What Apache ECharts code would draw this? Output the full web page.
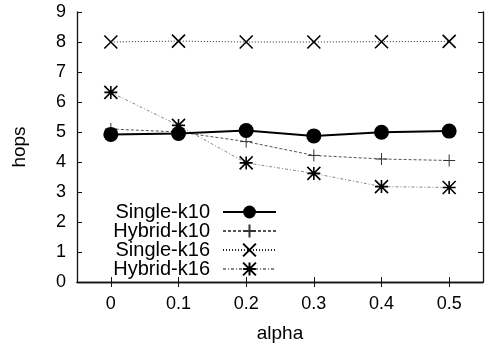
<!DOCTYPE html>
<html>
<head>
<meta charset="utf-8">
<script src="https://cdn.jsdelivr.net/npm/echarts@6/dist/echarts.min.js"></script>
<style>
  html, body { margin: 0; padding: 0; background: #fff; }
  #chart { width: 486px; height: 343px; }
</style>
</head>
<body>
<div id="chart"></div>
<script>
let alphas = ['0', '0.1', '0.2', '0.3', '0.4', '0.5']
let singleK10 = [4.92, 4.95, 5.05, 4.87, 4.99, 5.03]
let hybridK10 = [5.1, 5.0, 4.68, 4.22, 4.1, 4.05]
let singleK16 = [8.0, 8.03, 8.0, 8.0, 8.01, 8.02]
let hybridK16 = [6.32, 5.22, 3.97, 3.62, 3.18, 3.15]
let hopTicks = [0, 9, 1]

let font = 'Liberation Sans'
let ink = '#000'

// gnuplot-style point shapes
let plusPath = 'path://M5,0 L5,10 M0,5 L10,5'
let crossPath = 'path://M0,0 L10,10 M10,0 L0,10'
let starPath = 'path://M0,0 L10,10 M10,0 L0,10 M5,0 L5,10 M0,5 L10,5'

let frameLine = { show: true, lineStyle: { color: '#111', width: 1.3 } }
let innerTick = { show: true, inside: true, length: 5, lineStyle: { color: '#111', width: 1 } }

let myChart = echarts.init(document.getElementById('chart'), null, { renderer: 'canvas' })
myChart.setOption({
  animation: false,
  backgroundColor: '#fff',
  textStyle: { fontFamily: font, color: ink },
  grid: { left: 77, right: 3, top: 12, bottom: 61, outerBoundsMode: 'none', containLabel: false },
  legend: {
    orient: 'vertical',
    align: 'right',
    right: 204,
    top: 197,
    itemWidth: 53,
    itemHeight: 16,
    itemGap: -1,
    textStyle: { fontSize: 20, color: ink, fontFamily: font, padding: [0, 8, 0, 0] },
    data: ['Single-k10', 'Hybrid-k10', 'Single-k16', 'Hybrid-k16']
  },
  xAxis: [
    {
      type: 'category',
      data: alphas,
      boundaryGap: true,
      name: 'alpha',
      nameLocation: 'middle',
      nameGap: 42,
      nameTextStyle: { fontSize: 19, color: ink },
      axisLine: frameLine,
      axisTick: Object.assign({ alignWithLabel: true }, innerTick),
      axisLabel: { fontSize: 18, color: ink, margin: 13 },
      splitLine: { show: false }
    },
    {
      type: 'category',
      data: alphas,
      position: 'top',
      boundaryGap: true,
      axisLine: frameLine,
      axisTick: Object.assign({ alignWithLabel: true }, innerTick),
      axisLabel: { show: false },
      splitLine: { show: false }
    }
  ],
  yAxis: [
    {
      type: 'value',
      min: hopTicks[0],
      max: hopTicks[1],
      interval: hopTicks[2],
      name: 'hops',
      nameLocation: 'middle',
      nameGap: 48,
      nameTextStyle: { fontSize: 19, color: ink },
      axisLine: frameLine,
      axisTick: innerTick,
      axisLabel: { fontSize: 18, color: ink, margin: 11 },
      splitLine: { show: false }
    },
    {
      type: 'value',
      position: 'right',
      min: hopTicks[0],
      max: hopTicks[1],
      interval: hopTicks[2],
      axisLine: frameLine,
      axisTick: innerTick,
      axisLabel: { show: false },
      splitLine: { show: false }
    }
  ],
  series: [
    {
      name: 'Single-k16',
      type: 'line',
      data: singleK16,
      symbol: crossPath,
      symbolSize: 13,
      lineStyle: { color: '#222', width: 1, type: [1, 2] },
      itemStyle: { color: '#000', borderColor: '#000', borderWidth: 1.6 }
    },
    {
      name: 'Hybrid-k16',
      type: 'line',
      data: hybridK16,
      symbol: starPath,
      symbolSize: 13,
      lineStyle: { color: '#888', width: 1, type: [3, 2, 1, 2] },
      itemStyle: { color: '#000', borderColor: '#000', borderWidth: 1.6 }
    },
    {
      name: 'Hybrid-k10',
      type: 'line',
      data: hybridK10,
      symbol: plusPath,
      symbolSize: 12,
      lineStyle: { color: '#555', width: 1, type: [3, 2] },
      itemStyle: { color: '#000', borderColor: '#333', borderWidth: 1 }
    },
    {
      name: 'Single-k10',
      type: 'line',
      data: singleK10,
      symbol: 'circle',
      symbolSize: 15,
      lineStyle: { color: '#000', width: 2, type: 'solid' },
      itemStyle: { color: '#000', borderWidth: 0 }
    }
  ]
})
</script>
</body>
</html>
